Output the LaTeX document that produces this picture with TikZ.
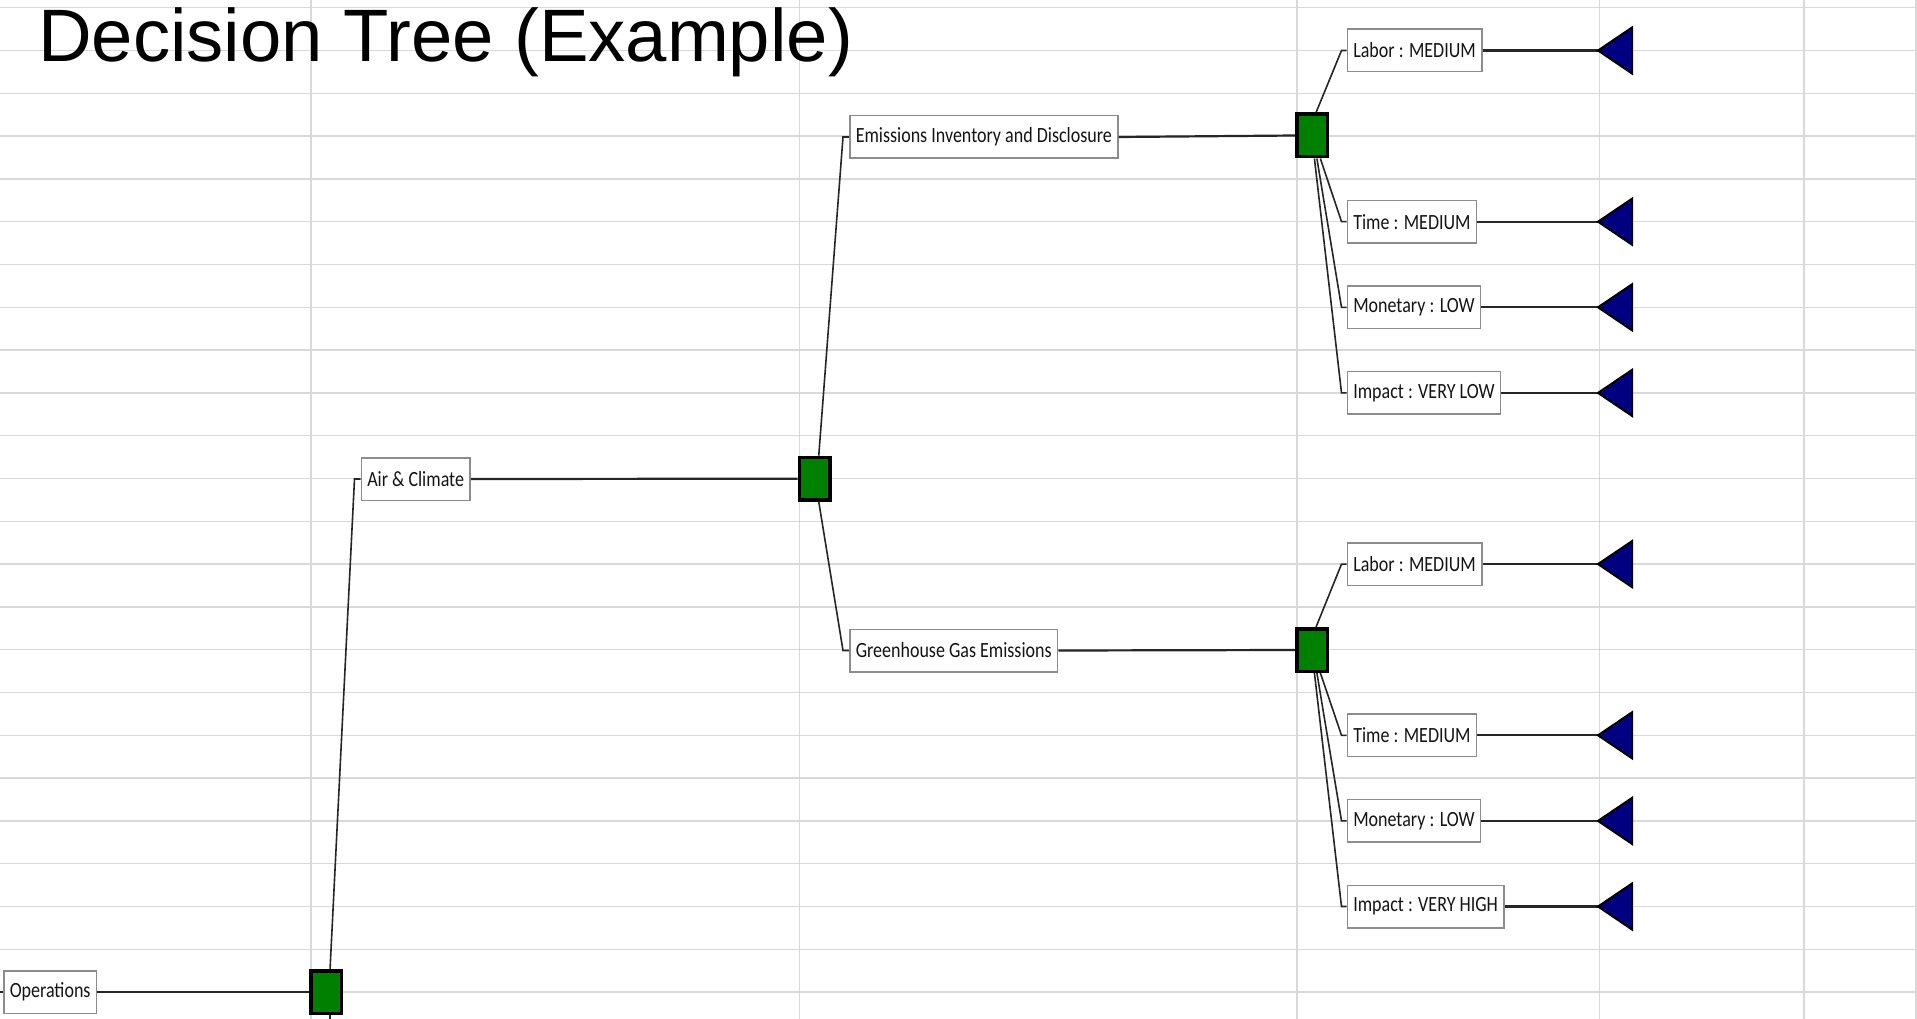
\documentclass[tikz,border=0pt]{standalone}
\usepackage{fontspec}
\usetikzlibrary{calc}
\newfontfamily\titlefont{Liberation Sans}
\newfontfamily\labelfont[FakeStretch=0.83]{Carlito}
\definecolor{gridgray}{RGB}{217,217,217}
\definecolor{boxgray}{RGB}{140,140,140}
\definecolor{choicegreen}{RGB}{0,128,0}
\definecolor{endblue}{RGB}{0,0,128}
\tikzset{
	grid line/.style={gridgray, line width=1.5pt},
	label box/.style={draw=boxgray, fill=white, line width=1.5pt, anchor=west,
		font=\labelfont\fontsize{21.7}{24}\selectfont, text=black!92,
		inner xsep=6pt, inner ysep=0pt, minimum height=42.5pt},
	choicebox/.style={draw=black, fill=choicegreen, line width=3.5pt,
		minimum width=30.5pt, minimum height=42.5pt, inner sep=0pt},
	branch/.style={black!85, line width=1.6pt},
	leafline/.style={black!85, line width=2.2pt},
	endnode/.style={draw=black, fill=endblue, line width=2pt, line join=miter},
}

\begin{document}
\begin{tikzpicture}[x=1pt, y=-1pt]
		%%%%% START %%%%%
		
		\fill[white] (0, 0) rectangle (1917, 1019);
		\useasboundingbox (0, 0) rectangle (1917, 1019);
		
		% sheet grid
		\foreach \k in {0,...,23}
			\draw[grid line] (0, {7.7+42.8*\k}) -- ++(1917, 0);
		\foreach \x in {311, 799.5, 1297, 1599.5, 1804, 1916}
			\draw[grid line] (\x, 0) -- (\x, 1019);
		
		\node[font=\titlefont\fontsize{74.3}{80}\selectfont, anchor=base west, inner sep=0pt] (title) at (38, 61.5) {Decision Tree (Example)};
		
		% decision nodes
		\node[label box] (ops) at (3, 992) {Operations};
		\node[choicebox] (g1) at (326, 992) {};
		\node[label box] (air) at (360.5, 479) {Air \& Climate};
		\node[choicebox] (g2) at (814.7, 478.7) {};
		\node[label box] (emis) at (849, 137) {Emissions Inventory and Disclosure};
		\node[label box] (ghg) at (849, 650.5) {Greenhouse Gas Emissions};
		\node[choicebox] (g3) at (1312, 135.5) {};
		\node[choicebox] (g4) at (1312, 650) {};
		
		\coordinate (in) at (0, 992);
		\coordinate (down) at (0, 1019);
		\draw[branch] (in) -- (ops.west);
		\draw[leafline] (ops.east) -- (g1.west);
		\draw[branch] (g1.-80) -- (g1.-80 |- down);
		\draw[branch] (g1.80) -- ([xshift=-6pt]air.west) -- (air.west);
		\draw[leafline] (air.east) -- (g2.west);
		\draw[branch] (g2.80) -- ([xshift=-6pt]emis.west) -- (emis.west);
		\draw[branch] (g2.-80) -- ([xshift=-6pt]ghg.west) -- (ghg.west);
		\draw[leafline] (emis.east) -- (g3.west);
		\draw[leafline] (ghg.east) -- (g4.west);
		
		% outcomes
		\foreach \i/\y/\txt in {1/50.5/Labor : MEDIUM, 2/221.7/Time : MEDIUM, 3/307.3/Monetary : LOW, 4/392.9/Impact : VERY LOW,
			5/564.1/Labor : MEDIUM, 6/735.3/Time : MEDIUM, 7/820.9/Monetary : LOW, 8/906.5/Impact : VERY HIGH}{
			\node[label box] (l\i) at (1346.5, \y) {\txt};
			\coordinate (t\i) at (1598, \y);
			\draw[leafline] (l\i.east) -- (t\i);
			\draw[endnode] (t\i) -- ++(34, -23) -- ++(0, 46) -- cycle;
		}
		
		\draw[branch] (g3.80) -- ([xshift=-5pt]l1.west) -- (l1.west);
		\draw[branch] (g4.80) -- ([xshift=-5pt]l5.west) -- (l5.west);
		\foreach \g/\i/\a in {g3/2/-70, g3/3/-78, g3/4/-84, g4/6/-70, g4/7/-78, g4/8/-84}
			\draw[branch] (\g.\a) -- ([xshift=-5pt]l\i.west) -- (l\i.west);
		
		%%%%% END %%%%%
\end{tikzpicture}
\end{document}
